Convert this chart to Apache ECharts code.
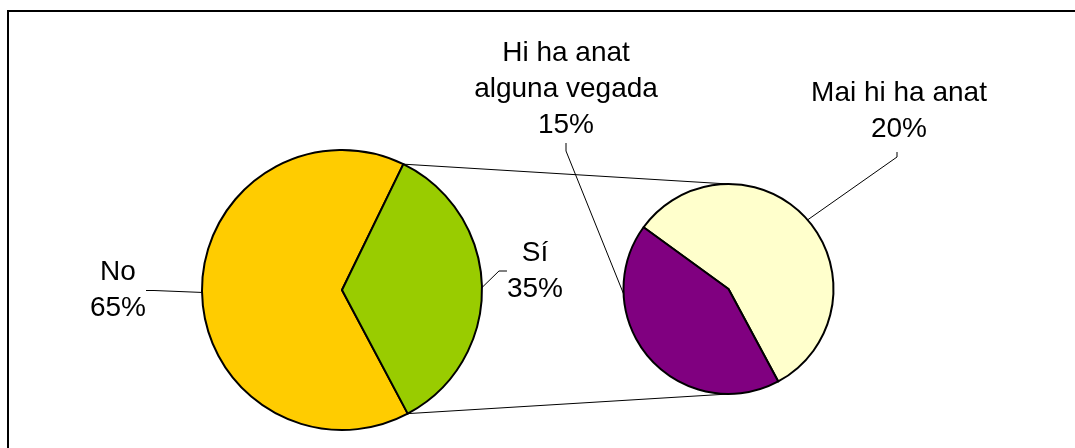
<!DOCTYPE html>
<html>
<head>
<meta charset="utf-8">
<script src="https://cdn.jsdelivr.net/npm/echarts@6/dist/echarts.min.js"></script>
<style>
html,body{margin:0;padding:0;background:#fff;}
#chart{width:1075px;height:448px;}
</style>
</head>
<body>
<div id="chart"></div>
<script>
// ---- data ----
const mainCategories = ['No', 'Sí'];
const mainValues = [65, 35];
const subCategories = ['Mai hi ha anat', 'Hi ha anat\nalguna vegada'];
const subValues = [20, 15];

// ---- layout / style ----
const mainColors = ['#FFCC00', '#99CC00'];
const subColors = ['#FFFFCC', '#800080'];
const P1 = { center: [342, 290], r: 140, start: 298 };
const P2 = { center: [728.5, 289], r: 105, start: 144 };
const labelPos = [
  [[118, 290.5], [535, 271]],          // No, Sí
  [[899, 111], [566, 89]]              // Mai, Hi ha
];
const FONT = "'Liberation Sans', Arial, sans-serif";

const chart = echarts.init(document.getElementById('chart'), null, { renderer: 'canvas' });

// connector lines derived from the split slice angles
const mainTotal = mainValues.reduce((a, b) => a + b, 0);
const aTop = (P1.start - 360 * mainValues[0] / mainTotal) * Math.PI / 180;
const aBot = aTop - 2 * Math.PI * mainValues[1] / mainTotal;
const pt = (p, a) => [p.center[0] + p.r * Math.cos(a), p.center[1] - p.r * Math.sin(a)];
const t1 = pt(P1, aTop), b1 = pt(P1, aBot);
const t2 = [P2.center[0], P2.center[1] - P2.r], b2 = [P2.center[0], P2.center[1] + P2.r];

function labelCfg() {
  return {
    show: true,
    position: 'outside',
    formatter: '{b}\n{c}%',
    fontFamily: FONT,
    fontSize: 28,
    lineHeight: 36,
    color: '#000',
    align: 'center'
  };
}
const labelLineCfg = { show: true, length: 12, length2: 8, lineStyle: { color: '#000', width: 1 } };

chart.setOption({
  backgroundColor: '#fff',
  animation: false,
  graphic: [
    { type: 'rect', z: 0, shape: { x: 8, y: 11, width: 1200, height: 600 },
      style: { fill: 'none', stroke: '#000', lineWidth: 2 } },
    { type: 'line', z: 0, shape: { x1: t1[0], y1: t1[1], x2: t2[0], y2: t2[1] },
      style: { stroke: '#000', lineWidth: 1 } },
    { type: 'line', z: 0, shape: { x1: b1[0], y1: b1[1], x2: b2[0], y2: b2[1] },
      style: { stroke: '#000', lineWidth: 1 } }
  ],
  series: [
    {
      type: 'pie', z: 5,
      center: P1.center, radius: P1.r, startAngle: P1.start, clockwise: true,
      silent: true,
      data: mainCategories.map((n, i) => ({ name: n, value: mainValues[i], itemStyle: { color: mainColors[i] } })),
      itemStyle: { borderColor: '#000', borderWidth: 2 },
      label: labelCfg(),
      labelLine: labelLineCfg,
      labelLayout: p => ({ x: labelPos[0][p.dataIndex][0], y: labelPos[0][p.dataIndex][1], align: 'center', verticalAlign: 'middle' })
    },
    {
      type: 'pie', z: 5,
      center: P2.center, radius: P2.r, startAngle: P2.start, clockwise: true,
      silent: true,
      data: subCategories.map((n, i) => ({ name: n, value: subValues[i], itemStyle: { color: subColors[i] } })),
      itemStyle: { borderColor: '#000', borderWidth: 2 },
      label: labelCfg(),
      labelLine: labelLineCfg,
      labelLayout: p => {
        const pos = labelPos[1][p.dataIndex];
        const o = { x: pos[0], y: pos[1], align: 'center', verticalAlign: 'middle' };
        if (p.dataIndex === 0 && p.labelLinePoints) {
          const a = p.labelLinePoints[0];
          o.labelLinePoints = [[a[0], a[1]], [pos[0] - 2, pos[1] + 46], [pos[0] - 2, pos[1] + 41]];
        }
        return o;
      }
    }
  ]
});
</script>
</body>
</html>
